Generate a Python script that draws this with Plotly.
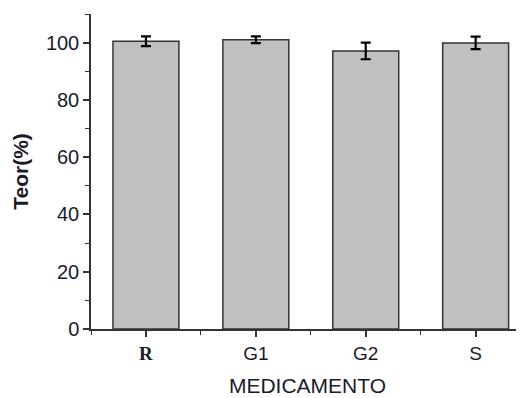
import plotly.graph_objects as go

categories = ["R", "G1", "G2", "S"]
tick_labels = ["<span style='font-family:Liberation Serif'><b>R</b></span>", "G1", "G2", "S"]
values = [100.5, 101.0, 97.1, 99.9]
errors = [1.7, 1.2, 2.9, 2.2]
x_pos = [0, 1, 2, 3]

fig = go.Figure()
fig.add_trace(go.Bar(
    x=x_pos, y=values, width=0.6,
    marker=dict(color="#c0c0c0", line=dict(color="#333333", width=1.5)),
    error_y=dict(type="data", array=errors, visible=True, color="black", thickness=2.2, width=5),
))

# page body has an 8px default margin; size the figure to fit the 524x398 window
fig.update_layout(
    width=516, height=390,
    margin=dict(l=83, r=0, t=6, b=69),
    paper_bgcolor="white", plot_bgcolor="white",
    showlegend=False,
    font=dict(family="Liberation Sans, Arial", size=19, color="#1a1a2a"),
)
fig.update_xaxes(
    range=[-0.5, 3.44], tickmode="array", tickvals=x_pos, ticktext=tick_labels,
    showline=True, linecolor="#333333", linewidth=1.5, ticks="outside", ticklen=6, tickwidth=1.5, tickcolor="#333333",
    minor=dict(tickmode="linear", tick0=0.5, dtick=1, ticks="outside", ticklen=4, tickcolor="#333333", tickwidth=1.2),
    showgrid=False, zeroline=False,
    title=dict(text="MEDICAMENTO", font=dict(size=21), standoff=16),
    tickfont=dict(size=19),
)
fig.update_yaxes(
    range=[0, 110], tickmode="array", tickvals=[0, 20, 40, 60, 80, 100],
    showline=True, linecolor="#333333", linewidth=1.5, ticks="outside", ticklen=6, tickwidth=1.5, tickcolor="#333333",
    minor=dict(tickmode="linear", tick0=10, dtick=20, ticks="outside", ticklen=4, tickcolor="#333333", tickwidth=1.2),
    showgrid=False, zeroline=False,
    title=dict(text="<b>Teor(%)</b>", font=dict(size=21), standoff=12),
    tickfont=dict(size=20),
)

fig.write_html("out.html")
